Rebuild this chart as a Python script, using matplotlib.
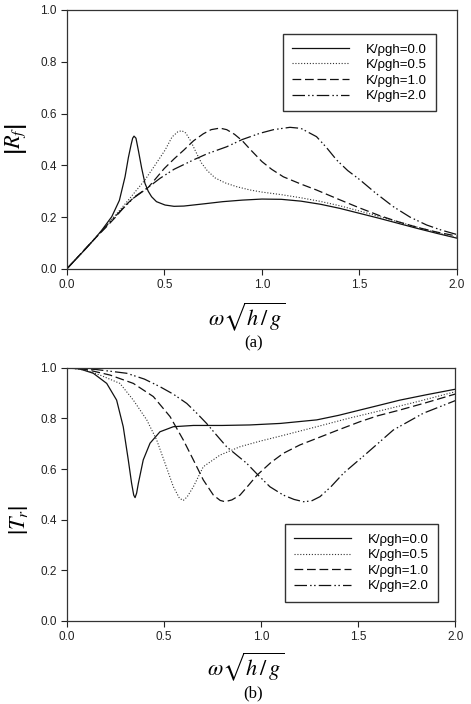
import matplotlib
matplotlib.use("Agg")
import matplotlib.pyplot as plt

plt.rcParams['font.family'] = ['Liberation Sans', 'DejaVu Sans']
plt.rcParams['mathtext.fontset'] = 'stix'

labels = ["K/\u03c1gh=0.0", "K/\u03c1gh=0.5", "K/\u03c1gh=1.0", "K/\u03c1gh=2.0"]

# ---- panel (a): |R_f| ----
rf_x0 = [0, 0.05, 0.1, 0.145, 0.18, 0.231, 0.27, 0.299, 0.316, 0.33, 0.338, 0.345, 0.355, 0.368, 0.384, 0.401, 0.418, 0.435, 0.46, 0.504, 0.55, 0.6, 0.708, 0.8, 0.9, 1.0, 1.1, 1.2, 1.3, 1.4, 1.5, 1.6, 1.7, 1.8, 1.9, 2.0]
rf_y0 = [0, 0.04, 0.08, 0.118, 0.15, 0.202, 0.265, 0.356, 0.43, 0.48, 0.505, 0.513, 0.505, 0.455, 0.39, 0.331, 0.3, 0.279, 0.26, 0.247, 0.242, 0.243, 0.252, 0.26, 0.266, 0.27, 0.269, 0.262, 0.25, 0.234, 0.215, 0.196, 0.176, 0.156, 0.137, 0.119]

rf_x1 = [0, 0.145, 0.2, 0.25, 0.316, 0.401, 0.45, 0.504, 0.54, 0.57, 0.59, 0.61, 0.635, 0.66, 0.69, 0.72, 0.76, 0.81, 0.87, 0.94, 1.0, 1.1, 1.2, 1.3, 1.4, 1.5, 1.6, 1.7, 1.8, 1.9, 2.0]
rf_y1 = [0, 0.118, 0.165, 0.208, 0.266, 0.344, 0.398, 0.459, 0.51, 0.53, 0.534, 0.525, 0.495, 0.455, 0.41, 0.38, 0.352, 0.333, 0.318, 0.305, 0.297, 0.287, 0.275, 0.261, 0.244, 0.224, 0.203, 0.182, 0.161, 0.14, 0.12]

rf_x2 = [0, 0.145, 0.2, 0.25, 0.3, 0.35, 0.418, 0.5, 0.55, 0.6, 0.65, 0.7, 0.74, 0.785, 0.82, 0.86, 0.9, 0.94, 1.0, 1.05, 1.11, 1.2, 1.28, 1.4, 1.5, 1.6, 1.7, 1.8, 1.9, 2.0]
rf_y2 = [0, 0.118, 0.16, 0.2, 0.245, 0.28, 0.315, 0.388, 0.425, 0.459, 0.495, 0.522, 0.538, 0.544, 0.538, 0.52, 0.495, 0.462, 0.415, 0.385, 0.356, 0.328, 0.305, 0.267, 0.236, 0.207, 0.182, 0.16, 0.142, 0.127]

rf_x3 = [0, 0.145, 0.239, 0.341, 0.4, 0.478, 0.55, 0.649, 0.72, 0.82, 0.9, 0.99, 1.06, 1.144, 1.2, 1.28, 1.33, 1.383, 1.44, 1.503, 1.58, 1.673, 1.76, 1.844, 1.92, 2.0]
rf_y3 = [0, 0.118, 0.196, 0.273, 0.305, 0.35, 0.385, 0.421, 0.445, 0.472, 0.5, 0.524, 0.538, 0.547, 0.543, 0.511, 0.47, 0.421, 0.38, 0.344, 0.295, 0.241, 0.2, 0.17, 0.15, 0.133]

# ---- panel (b): |T_r| ----
tr_x0 = [0, 0.068, 0.137, 0.206, 0.257, 0.291, 0.317, 0.334, 0.345, 0.352, 0.36, 0.369, 0.394, 0.429, 0.48, 0.549, 0.652, 0.8, 0.943, 1.1, 1.287, 1.4, 1.51, 1.6, 1.715, 1.85, 2.0]
tr_y0 = [1.0, 0.995, 0.978, 0.938, 0.872, 0.767, 0.636, 0.544, 0.497, 0.487, 0.505, 0.544, 0.636, 0.702, 0.747, 0.767, 0.772, 0.772, 0.774, 0.78, 0.794, 0.812, 0.833, 0.85, 0.872, 0.893, 0.915]

tr_x1 = [0, 0.1, 0.171, 0.274, 0.343, 0.412, 0.463, 0.506, 0.549, 0.58, 0.6, 0.62, 0.652, 0.703, 0.789, 0.892, 0.995, 1.1, 1.287, 1.45, 1.63, 1.8, 2.0]
tr_y1 = [1.0, 0.99, 0.971, 0.938, 0.872, 0.794, 0.715, 0.623, 0.53, 0.485, 0.476, 0.49, 0.53, 0.609, 0.655, 0.688, 0.71, 0.73, 0.767, 0.8, 0.833, 0.865, 0.905]

tr_x2 = [0, 0.1, 0.223, 0.343, 0.446, 0.532, 0.6, 0.652, 0.703, 0.755, 0.79, 0.815, 0.85, 0.892, 0.935, 0.98, 1.05, 1.115, 1.2, 1.287, 1.4, 1.51, 1.6, 1.715, 1.85, 2.0]
tr_y2 = [1.0, 0.993, 0.971, 0.938, 0.886, 0.807, 0.715, 0.636, 0.557, 0.497, 0.476, 0.471, 0.478, 0.497, 0.535, 0.576, 0.625, 0.662, 0.695, 0.721, 0.755, 0.787, 0.81, 0.833, 0.862, 0.896]

tr_x3 = [0, 0.15, 0.309, 0.4, 0.48, 0.55, 0.618, 0.67, 0.72, 0.77, 0.823, 0.875, 0.926, 0.98, 1.046, 1.115, 1.17, 1.218, 1.26, 1.304, 1.36, 1.424, 1.544, 1.681, 1.835, 2.0]
tr_y3 = [1.0, 0.993, 0.978, 0.955, 0.925, 0.895, 0.859, 0.82, 0.78, 0.735, 0.688, 0.655, 0.623, 0.58, 0.53, 0.497, 0.48, 0.471, 0.474, 0.491, 0.53, 0.583, 0.662, 0.754, 0.82, 0.87]

xticks = [0.0, 0.5, 1.0, 1.5, 2.0]
yticks = [0.0, 0.2, 0.4, 0.6, 0.8, 1.0]

styles = [
    dict(linestyle='-', color='#111111', lw=0.9),
    dict(linestyle=(0, (1.0, 1.6)), color='#333333', lw=0.8),
    dict(linestyle=(0, (7.0, 3.0)), color='#111111', lw=0.9),
    dict(linestyle=(0, (10.0, 2.5, 1.2, 2.0, 1.2, 2.5)), color='#111111', lw=0.9),
]

fig = plt.figure(figsize=(4.71, 7.04), dpi=100)
ax1 = fig.add_axes([0.1416, 0.6179, 0.8287, 0.3679])
ax2 = fig.add_axes([0.1416, 0.1179, 0.8250, 0.3598])

rf = [(rf_x0, rf_y0), (rf_x1, rf_y1), (rf_x2, rf_y2), (rf_x3, rf_y3)]
tr = [(tr_x0, tr_y0), (tr_x1, tr_y1), (tr_x2, tr_y2), (tr_x3, tr_y3)]

for ax, data in ((ax1, rf), (ax2, tr)):
    for (x, y), st, lab in zip(data, styles, labels):
        ax.plot(x, y, label=lab, **st)
    ax.set_xlim(0, 2.0)
    ax.set_ylim(0, 1.0)
    ax.set_xticks(xticks)
    ax.set_yticks(yticks)
    ax.set_xticklabels([f"{v:.1f}" for v in xticks])
    ax.set_yticklabels([f"{v:.1f}" for v in yticks])
    ax.tick_params(direction='out', length=4, width=0.8, labelsize=8.5, pad=3,
                   top=False, right=False, colors='#222222')
    for s in ax.spines.values():
        s.set_linewidth(0.9)
        s.set_color('#333333')
    ax.set_xlabel(r'$\omega\sqrt{h\,/\,g}$', fontsize=16, va='center')

ax1.set_ylabel(r'$\left|R_f\right|$', fontsize=16, va='center')
ax2.set_ylabel(r'$\left|T_r\right|$', fontsize=16, va='center')
ax1.yaxis.set_label_coords(-0.13, 0.5)
ax2.yaxis.set_label_coords(-0.125, 0.4)
ax1.xaxis.set_label_coords(0.462, -0.185)
ax2.xaxis.set_label_coords(0.46, -0.18)

leg_kw = dict(loc='upper left', fontsize=9.5, handlelength=4.3, handletextpad=1.3,
              labelspacing=0.25, borderpad=0.7, borderaxespad=0, fancybox=False,
              framealpha=1, edgecolor='#333333')
l1 = ax1.legend(bbox_to_anchor=(0.554, 0.907), **leg_kw)
l2 = ax2.legend(bbox_to_anchor=(0.562, 0.382), **leg_kw)
for lg in (l1, l2):
    lg.get_frame().set_linewidth(1.0)

fig.text(0.539, 0.5128, '(a)', ha='center', va='center', fontsize=12,
         family=['Liberation Serif', 'DejaVu Serif'])
fig.text(0.537, 0.0152, '(b)', ha='center', va='center', fontsize=12,
         family=['Liberation Serif', 'DejaVu Serif'])

fig.savefig('out.png', dpi=100)
